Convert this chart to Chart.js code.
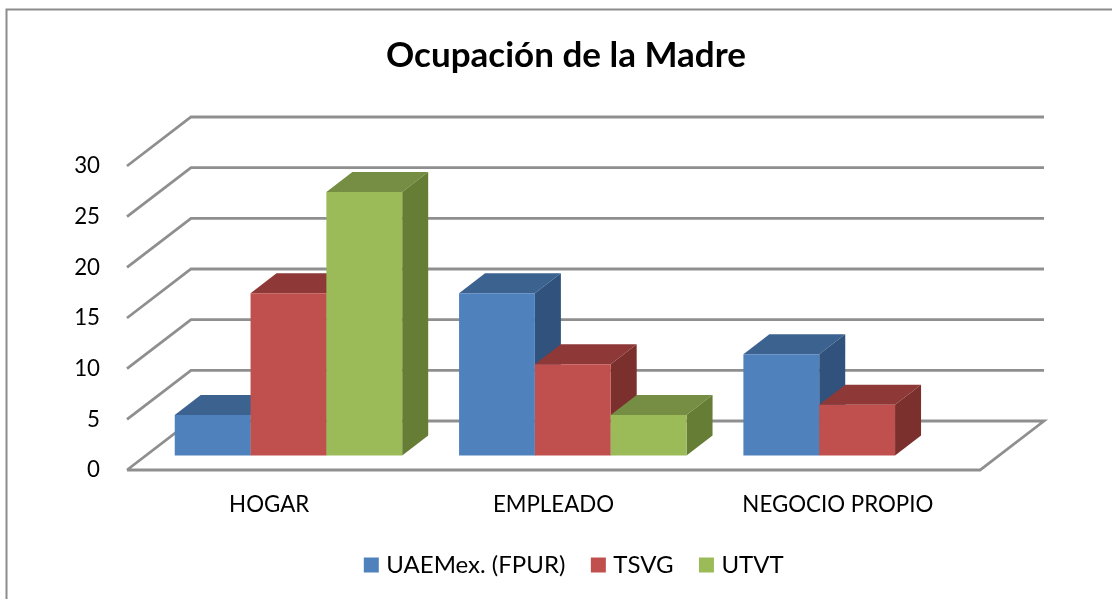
<!DOCTYPE html>
<html>
<head>
<meta charset="utf-8">
<style>html,body{margin:0;padding:0;background:#fff;overflow:hidden}canvas{display:block}</style>
<script src="https://cdn.jsdelivr.net/npm/chart.js@4"></script>
</head>
<body>
<canvas id="c" width="1112" height="599"></canvas>
<script>
const categories = ['HOGAR', 'EMPLEADO', 'NEGOCIO PROPIO'];
const uaemex = [4, 16, 10];
const tsvg = [16, 9, 5];
const utvt = [26, 4, null];
const seriesNames = ['UAEMex. (FPUR)', 'TSVG', 'UTVT'];
const frontColors = ['#4F81BD', '#C0504D', '#9BBB59'];
const topColors = ['#3C6390', '#8E3937', '#758E43'];
const sideColors = ['#30527C', '#7C302E', '#667D35'];
const FONT = 'Lato, Carlito, sans-serif';
const WALL = {dx: 64, dy: -49};      // depth of the floor
const BASE = {dx: 19.3, dy: -14.5};  // where the bars stand on the floor
const DEPTH = {dx: 26, dy: -20};     // depth of a bar

const scene3d = {
  id: 'scene3d',
  afterLayout(chart) {
    chart.titleBlock.left += 76; chart.titleBlock.right += 76;
    chart.legend.left += 86; chart.legend.right += 86;
    chart.legend.top -= 12; chart.legend.bottom -= 12;
  },
  beforeDraw(chart) {
    const c = chart.ctx;
    c.save();
    c.fillStyle = '#fff';
    c.fillRect(0, 0, chart.width, chart.height);
    c.strokeStyle = '#8c8c8c';
    c.lineWidth = 2;
    c.beginPath();
    c.moveTo(6.5, chart.height);
    c.lineTo(6.5, 9.5);
    c.lineTo(chart.width, 9.5);
    c.stroke();
    c.restore();
  },
  beforeDatasetsDraw(chart) {
    const c = chart.ctx, y = chart.scales.y, a = chart.chartArea;
    c.save();
    c.strokeStyle = '#8f8f8f';
    c.lineWidth = 2.8;
    c.lineJoin = 'miter';
    y.ticks.forEach(t => {
      const py = y.getPixelForValue(t.value);
      c.beginPath();
      c.moveTo(a.left, py);
      c.lineTo(a.left + WALL.dx, py + WALL.dy);
      c.lineTo(a.right + WALL.dx, py + WALL.dy);
      if (t.value === 0) {
        c.lineTo(a.right, py);
        c.lineTo(a.left, py);
      }
      c.stroke();
    });
    c.restore();
    // series are painted left to right so nearer bars cover the sides of earlier ones
    c.save();
    c.translate(BASE.dx, BASE.dy);
    chart.data.datasets.forEach((ds, i) => {
      chart.getDatasetMeta(i).data.forEach((bar, k) => {
        if (ds.data[k] == null) return;
        const p = bar.getProps(['x', 'y', 'base', 'width'], true);
        const l = p.x - p.width / 2, r = p.x + p.width / 2;
        c.fillStyle = topColors[i];
        c.beginPath();
        c.moveTo(l, p.y);
        c.lineTo(l + DEPTH.dx, p.y + DEPTH.dy);
        c.lineTo(r + DEPTH.dx, p.y + DEPTH.dy);
        c.lineTo(r, p.y);
        c.closePath();
        c.fill();
        c.fillStyle = sideColors[i];
        c.beginPath();
        c.moveTo(r, p.y);
        c.lineTo(r + DEPTH.dx, p.y + DEPTH.dy);
        c.lineTo(r + DEPTH.dx, p.base + DEPTH.dy);
        c.lineTo(r, p.base);
        c.closePath();
        c.fill();
        bar.draw(c);
      });
    });
    c.restore();
  },
  beforeDatasetDraw() {
    return false;
  }
};

new Chart(document.getElementById('c'), {
  type: 'bar',
  data: {
    labels: categories,
    datasets: [uaemex, tsvg, utvt].map((d, i) => ({
      label: seriesNames[i],
      data: d,
      backgroundColor: frontColors[i],
      borderWidth: 0,
      barPercentage: 1,
      categoryPercentage: 0.8
    }))
  },
  options: {
    responsive: false,
    animation: false,
    layout: {padding: {left: 0, right: 132, top: 0, bottom: 0}},
    plugins: {
      title: {
        display: true,
        text: 'Ocupación de la Madre',
        color: '#000',
        font: {family: FONT, size: 35, weight: 'bold', lineHeight: 1},
        padding: {top: 38, bottom: 93}
      },
      legend: {
        display: true,
        position: 'bottom',
        labels: {
          font: {family: FONT, size: 24},
          color: '#000',
          usePointStyle: true,
          pointStyle: 'rect',
          boxWidth: 6,
          boxHeight: 15,
          padding: 30
        }
      },
      tooltip: {enabled: false}
    },
    scales: {
      x: {
        grid: {display: false, drawTicks: false},
        border: {display: false},
        ticks: {color: '#000', font: {family: FONT, size: 22.3}, padding: 21, maxRotation: 0},
        afterFit(s) { s.height = 65; }
      },
      y: {
        min: 0,
        max: 30,
        grid: {display: false, drawTicks: false},
        border: {display: false},
        ticks: {stepSize: 5, color: '#000', font: {family: FONT, size: 22.3}, padding: 27},
        afterFit(s) { s.width = 127; }
      }
    }
  },
  plugins: [scene3d]
});
</script>
</body>
</html>
